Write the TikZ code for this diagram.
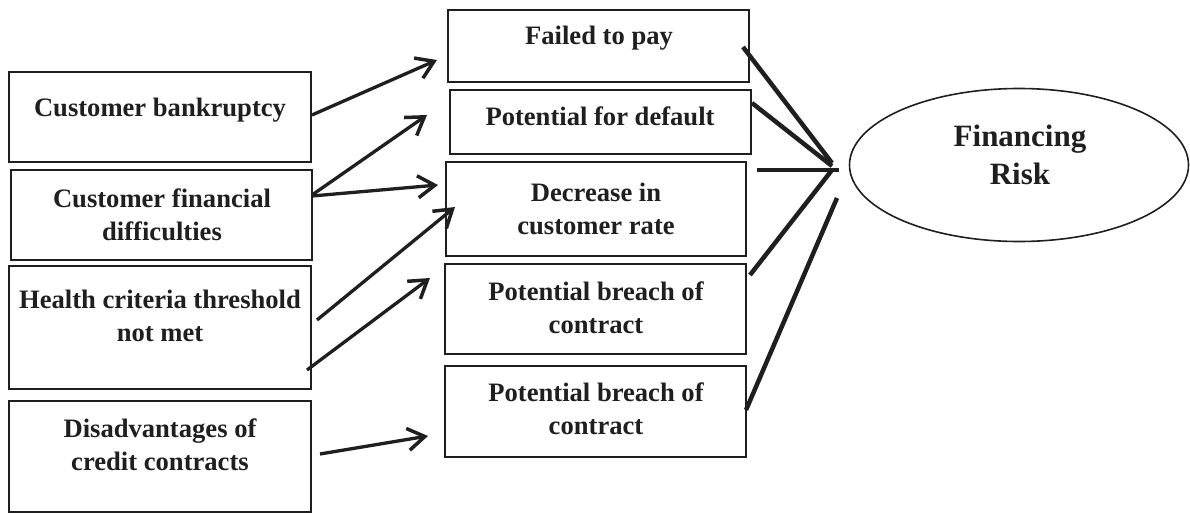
\documentclass[tikz,border=0pt]{standalone}
\usepackage{fontspec}
\setmainfont{Liberation Serif}
\usetikzlibrary{arrows.meta,fit,shapes.geometric}
\begin{document}
\begin{tikzpicture}[x=1pt,y=-1pt,
  box/.style={draw=black!88, line width=2pt, inner sep=0pt},
  lbl/.style={font=\bfseries\fontsize{26.6}{33}\selectfont, align=center,
    anchor=base, inner sep=0pt, text=black!88},
  feed/.style={draw=black!88, line width=3.3pt,
    -{Straight Barb[length=17pt,width=22pt,line width=3.5pt]}},
  riskline/.style={draw=black!88, line width=4.5pt}]
\useasboundingbox (0,0) rectangle (1190,513);

% causes (left column); two-line labels are placed by their last baseline
\node[box, fit={(9,72) (311,162)}]   (cb)  {};
\node[box, fit={(11,170) (312,260)}] (cfd) {};
\node[box, fit={(9,266) (311,389)}]  (hc)  {};
\node[box, fit={(9,401) (311,512)}]  (dc)  {};
\node[lbl] (cbt)  at (160,117) {Customer bankruptcy};
\node[lbl] (cfdt) at (162,240) {Customer financial\\difficulties};
\node[lbl] (hct)  at (160,341) {Health criteria threshold\\not met};
\node[lbl] (dct)  at (160,470) {Disadvantages of\\credit contracts};

% consequences (middle column)
\node[box, fit={(448,10) (749,82)}]   (fp)  {};
\node[box, fit={(450,90) (751,154)}]  (pd)  {};
\node[box, fit={(446,162) (746,256)}] (dr)  {};
\node[box, fit={(445,264) (746,354)}] (pb1) {};
\node[box, fit={(445,366) (746,457)}] (pb2) {};
\node[lbl] (fpt)  at (599,45)  {Failed to pay};
\node[lbl] (pdt)  at (600,126) {Potential for default};
\node[lbl] (drt)  at (596,234) {Decrease in\\customer rate};
\node[lbl] (pb1t) at (596,333) {Potential breach of\\contract};
\node[lbl] (pb2t) at (596,434) {Potential breach of\\contract};

% outcome
\node[draw=black!88, line width=1.6pt, ellipse, inner sep=0pt,
  minimum width=339pt, minimum height=153pt] (fr) at (1019,165) {};
\node[lbl, font=\bfseries\fontsize{31}{38}\selectfont] (frt) at (1020,185) {Financing\\Risk};

% connector end points
\coordinate (a1s) at (312,115); \coordinate (a1e) at (437,60);
\coordinate (a2s) at (312,195); \coordinate (a2e) at (427,115);
\coordinate (a3s) at (312,196); \coordinate (a3e) at (438,185);
\coordinate (a4s) at (317,320); \coordinate (a4e) at (455,207);
\coordinate (a5s) at (307,370); \coordinate (a5e) at (430,278);
\coordinate (a6s) at (320,454); \coordinate (a6e) at (428,436);

\coordinate (j1s) at (743,47);  \coordinate (j1e) at (832,163);
\coordinate (j2s) at (752,103); \coordinate (j2e) at (832,166);
\coordinate (j3s) at (757,170); \coordinate (j3e) at (839,170);
\coordinate (j4s) at (750,275); \coordinate (j4e) at (832,170);
\coordinate (j5s) at (746,410); \coordinate (j5e) at (837,198);

% causes -> consequences
\draw[feed] (a1s) -- (a1e);
\draw[feed] (a2s) -- (a2e);
\draw[feed] (a3s) -- (a3e);
\draw[feed] (a4s) -- (a4e);
\draw[feed] (a5s) -- (a5e);
\draw[feed] (a6s) -- (a6e);

% consequences -> risk
\draw[riskline] (j1s) -- (j1e);
\draw[riskline] (j2s) -- (j2e);
\draw[riskline] (j3s) -- (j3e);
\draw[riskline] (j4s) -- (j4e);
\draw[riskline] (j5s) -- (j5e);
\end{tikzpicture}
\end{document}
